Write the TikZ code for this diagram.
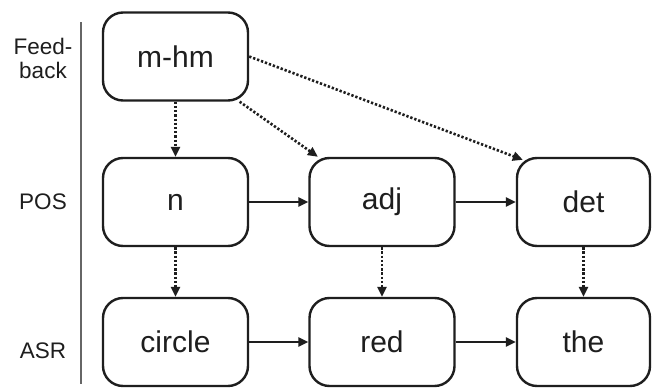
\documentclass[tikz,border=0pt]{standalone}
\usepackage{fontspec}
\setmainfont{Liberation Sans}
\usetikzlibrary{arrows.meta,calc}
\definecolor{ink}{HTML}{1E1E1E}
\begin{document}
\begin{tikzpicture}[x=1pt,y=-1pt,
  box/.style={draw=ink,line width=2.4pt,rounded corners=20pt,minimum width=145pt,minimum height=88pt,inner sep=0pt,text=ink,font=\fontsize{30}{36}\selectfont},
  nbox/.style={box,minimum width=133pt},
  lab/.style={text=ink,font=\fontsize{22.5}{26}\selectfont,inner sep=0pt,align=center},
  solidarr/.style={draw=ink,line width=2.4pt,-{Triangle[length=10pt,width=9pt]}},
  dotarr/.style={draw=ink,line width=2.6pt,dash pattern=on 2.3pt off 1.9pt,-{Triangle[length=10pt,width=9pt]}}]
\useasboundingbox (0,0) rectangle (653,388);
\fill[white] (0,0) rectangle (653,388);
% axis line and labels
\coordinate (ltop) at (81,22);
\coordinate (lbot) at (81,384);
\draw[draw=black!60,line width=1.5pt] (ltop) -- (lbot);
\node[lab] (lfb) at (43,58) {Feed-\\[-2pt]back};
\node[lab] (lpos) at (43,202) {POS};
\node[lab] (lasr) at (43,351) {ASR};
% boxes
\node[box] (mhm) at (175.5,56.5) {m-hm};
\node[box] (n) at (175.5,202) {n};
\node[box] (circle) at (175.5,342) {circle};
\node[box] (adj) at (382,202) {adj};
\node[box] (red) at (382,342) {red};
\node[nbox] (det) at (583.5,202) {det};
\node[nbox] (the) at (583.5,342) {the};
% connectors
\draw[dotarr] (mhm) -- (n);
\draw[dotarr] (mhm) -- (adj);
\draw[dotarr] (mhm.east) -- ($(det.north west)+(7,3)$);
\draw[dotarr] (n) -- (circle);
\draw[dotarr] (adj) -- (red);
\draw[dotarr] (det) -- (the);
\draw[solidarr] (n) -- (adj);
\draw[solidarr] (adj) -- (det);
\draw[solidarr] (circle) -- (red);
\draw[solidarr] (red) -- (the);
\end{tikzpicture}
\end{document}
